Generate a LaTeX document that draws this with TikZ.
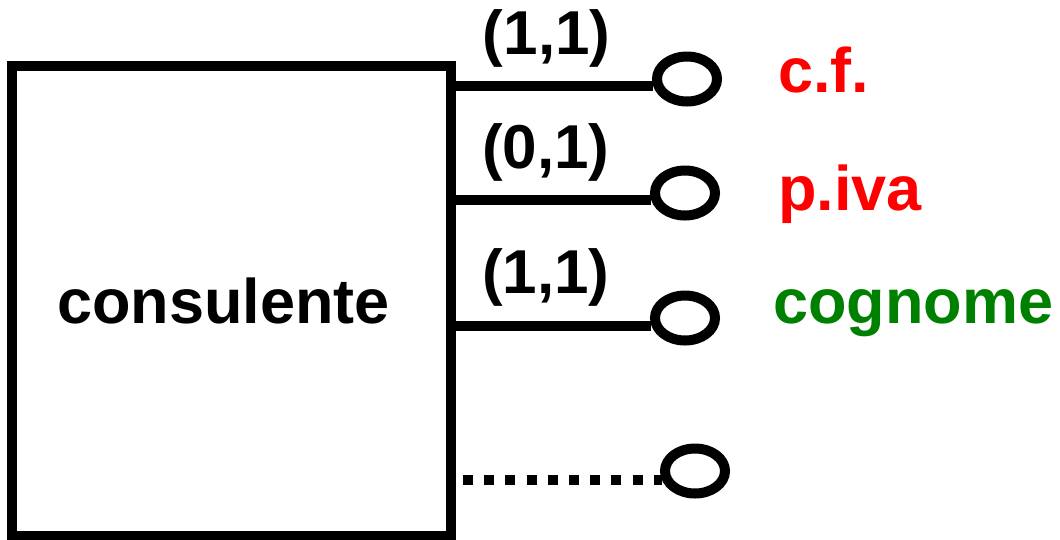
\documentclass[tikz,border=0pt]{standalone}
\usepackage{fontspec}
\setmainfont{Liberation Sans}
\usetikzlibrary{shapes.geometric}

\definecolor{verde}{RGB}{0,128,0}

\tikzset{
  entita/.style={draw, line width=10pt, minimum width=439pt, minimum height=470pt,
    inner sep=0pt, font=\fontsize{63}{70}\selectfont\bfseries},
  attributo/.style={draw, ellipse, line width=10pt, minimum width=60pt,
    minimum height=45pt, inner sep=0pt},
  legame/.style={line width=10.5pt},
  card/.style={pos=.46, anchor=south, yshift=14pt, inner sep=0pt,
    font=\fontsize{62}{70}\selectfont\bfseries},
  nome/.style={anchor=base west, inner sep=0pt,
    font=\fontsize{63}{70}\selectfont\bfseries}
}

\begin{document}
\begin{tikzpicture}[x=1pt, y=1pt]

  \useasboundingbox (0,0) rectangle (1060,-539);

  \node[entita] (cons) at (231.5,-301) {\hspace*{-16pt}consulente};

  \node[attributo] (cf)  at (687,-79)  {};
  \node[attributo] (iva) at (685,-193) {};
  \node[attributo] (cog) at (685,-318) {};
  \node[attributo] (alt) at (695,-471) {};

  \draw[legame] (cons.east |- cf.192)  -- node[card]{(1,1)} (cf.192);
  \draw[legame] (cons.east |- iva.192) -- node[card]{(0,1)} (iva.192);
  \draw[legame] (cons.east |- cog.193) -- node[card]{(1,1)} (cog.193);
  \draw[legame, dash pattern=on 10pt off 11.2pt, dash phase=14.2pt]
    (cons.east |- alt.195) -- (alt.195);

  \node[nome, text=red]   (ncf)  at (778,-92)  {c.f.};
  \node[nome, text=red]   (niva) at (778,-210) {p.iva};
  \node[nome, text=verde] (ncog) at (773,-323) {cognome};

\end{tikzpicture}
\end{document}
